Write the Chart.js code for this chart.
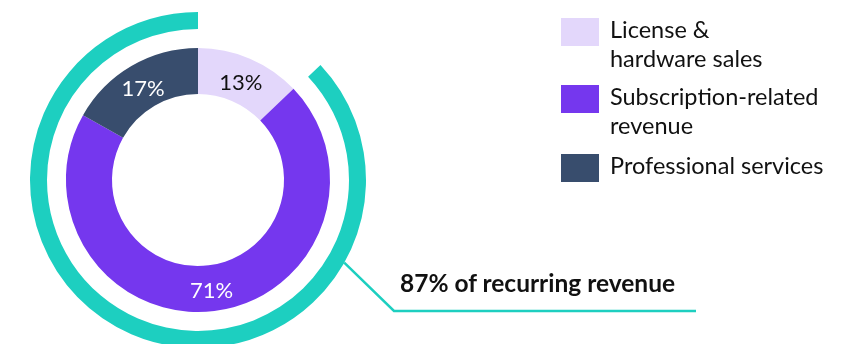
<!DOCTYPE html>
<html>
<head>
<meta charset="utf-8">
<script src="https://cdn.jsdelivr.net/npm/chart.js@4/dist/chart.umd.min.js"></script>
<style>
  html, body { margin: 0; padding: 0; background: #fff; }
  body { width: 861px; height: 344px; overflow: hidden; position: relative; font-family: Lato, "Open Sans", sans-serif; }
  #wrap { position: absolute; left: 0; top: 0; width: 861px; height: 360px; }
  .box { position: absolute; left: 561px; width: 38px; height: 28px; }
  .lbl { position: absolute; left: 610px; font-size: 23.5px; line-height: 29px; color: #111; white-space: nowrap; }
  #callout { position: absolute; left: 400px; top: 270px; font-size: 24.5px; line-height: 26px; font-weight: bold; color: #111; white-space: nowrap; }
</style>
</head>
<body>
<div id="wrap"><canvas id="donut"></canvas></div>
<div id="legend"></div>
<div id="callout"></div>

<script>
// data
const categorias = [['License &', 'hardware sales'], ['Subscription-related', 'revenue'], ['Professional services']];
const valores = [13, 71, 17];          // % of revenue
const recorrente = [13, 87];           // non-recurring vs recurring share
const cores = ['#E3D7FB', '#7537EE', '#384D6D'];
const corTeal = '#1DCFC0';

// legenda em HTML (texto com quebra de linha)
const legenda = document.getElementById('legend');
const topos = [18, 85, 154];
categorias.forEach((linhas, i) => {
    const box = document.createElement('div');
    box.className = 'box';
    box.style.top = topos[i] + 'px';
    box.style.background = cores[i];
    legenda.appendChild(box);

    const txt = document.createElement('div');
    txt.className = 'lbl';
    txt.style.top = (topos[i] - 3) + 'px';
    txt.innerHTML = linhas.join('<br>');
    legenda.appendChild(txt);
});

document.getElementById('callout').textContent = recorrente[1] + '% of recurring revenue';

// rótulos de porcentagem dentro das fatias
const rotulos = {
    id: 'rotulos',
    afterDatasetsDraw(chart) {
        const ctx = chart.ctx;
        const meta = chart.getDatasetMeta(2);
        ctx.save();
        ctx.font = '22px Lato';
        ctx.textAlign = 'center';
        ctx.textBaseline = 'middle';
        meta.data.forEach((arc, i) => {
            const p = arc.tooltipPosition();
            ctx.fillStyle = i === 0 ? '#111' : '#fff';
            ctx.fillText(valores[i] + '%', p.x, p.y + 3);
        });
        ctx.restore();
    }
};

// linha de chamada saindo do anel verde
const linha = {
    id: 'linha',
    afterDraw(chart) {
        const arc = chart.getDatasetMeta(0).data[1];
        const ang = -Math.PI / 2 + (119.5 * Math.PI / 180);
        const x0 = arc.x + Math.cos(ang) * arc.outerRadius;
        const y0 = arc.y + Math.sin(ang) * arc.outerRadius;
        const ctx = chart.ctx;
        ctx.save();
        ctx.strokeStyle = corTeal;
        ctx.lineWidth = 2.5;
        ctx.beginPath();
        ctx.moveTo(x0, y0);
        ctx.lineTo(394, 311);
        ctx.lineTo(696, 311);
        ctx.stroke();
        ctx.restore();
    }
};

new Chart(document.getElementById('donut'), {
    type: 'doughnut',
    data: {
        labels: ['License & hardware sales', 'Subscription-related revenue', 'Professional services'],
        datasets: [
            {
                label: 'Recorrente',
                data: recorrente,
                backgroundColor: ['rgba(0,0,0,0)', corTeal],
                borderWidth: 0,
                weight: 17
            },
            {
                label: 'espaco',
                data: [1],
                backgroundColor: ['rgba(0,0,0,0)'],
                borderWidth: 0,
                weight: 19
            },
            {
                label: 'Receita',
                data: valores,
                backgroundColor: cores,
                borderWidth: 0,
                weight: 46
            }
        ]
    },
    options: {
        responsive: true,
        maintainAspectRatio: false,
        animation: false,
        cutout: '51.2%',
        layout: { padding: { left: 30, right: 495, top: 12, bottom: 12 } },
        plugins: {
            legend: { display: false },
            tooltip: { enabled: false }
        }
    },
    plugins: [rotulos, linha]
});
</script>
</body>
</html>
